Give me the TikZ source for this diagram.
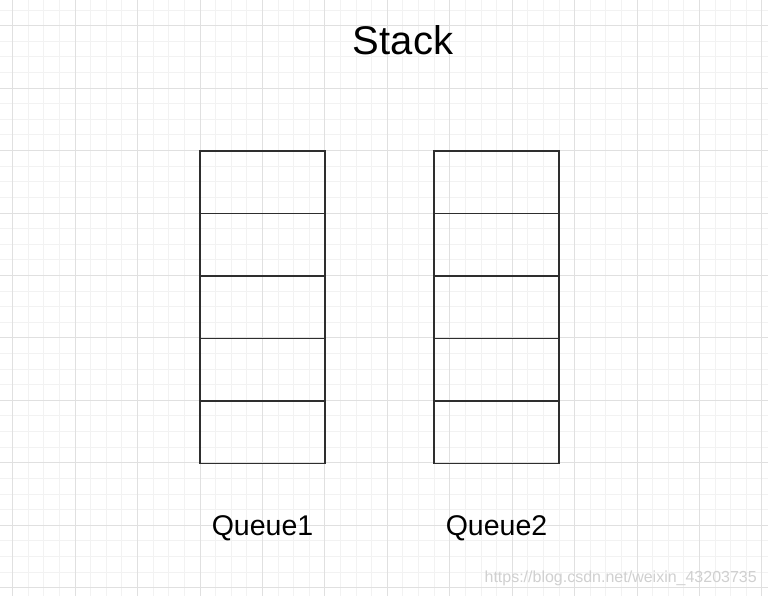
\documentclass[tikz,border=0pt]{standalone}
\usepackage{fontspec}
\setmainfont{Liberation Sans}
\usetikzlibrary{positioning}
\definecolor{gridminor}{HTML}{F2F2F2}
\definecolor{gridmajor}{HTML}{E0E0E0}
\definecolor{boxline}{HTML}{2E2E2E}
\definecolor{marktext}{HTML}{D0D0D0}

\begin{document}
\begin{tikzpicture}[x=1pt,y=-1pt,
    cell/.style={draw=boxline,line width=1.6pt,minimum width=125pt,minimum height=62.5pt,inner sep=0pt,outer sep=0pt},
    caption/.style={font=\fontsize{28.5}{30}\selectfont,inner sep=0pt}]
    \useasboundingbox (0,0) rectangle (768,596);
    \fill[white] (0,0) rectangle (768,596);
    % Draw grid
    \begin{scope}
        \clip (0,0) rectangle (768,596);
        \foreach \i in {-1,...,49}
            \draw[gridminor,line width=1pt] ({12.7+15.61*\i},0) -- ++(0,596);
        \foreach \j in {-1,...,37}
            \draw[gridminor,line width=1pt] (0,{25.7+15.61*\j}) -- ++(768,0);
        \foreach \i in {0,4,...,48}
            \draw[gridmajor,line width=1pt] ({12.7+15.61*\i},0) -- ++(0,596);
        \foreach \j in {0,4,...,36}
            \draw[gridmajor,line width=1pt] (0,{25.7+15.61*\j}) -- ++(768,0);
    \end{scope}

    % Title
    \node[font=\fontsize{40}{42}\selectfont,inner sep=0pt,anchor=base] (stack) at (403,55) {Stack};

    % Queue 1
    \node[cell] (qa1) at (262.5,182.3) {};
    \foreach \n [count=\p] in {2,...,5}
        \node[cell,below=0pt of qa\p] (qa\n) {};
    % Queue 2
    \node[cell] (qb1) at (496.5,182.3) {};
    \foreach \n [count=\p] in {2,...,5}
        \node[cell,below=0pt of qb\p] (qb\n) {};

    % Labels
    \node[caption,below=52pt of qa5] (queue1) {Queue1};
    \node[caption,below=52pt of qb5] (queue2) {Queue2};

    % Watermark
    \node[font=\fontsize{16}{18}\selectfont,text=marktext,inner sep=0pt,anchor=base east] (mark) at (757,582) {https://blog.csdn.net/weixin\_43203735};
\end{tikzpicture}
\end{document}
